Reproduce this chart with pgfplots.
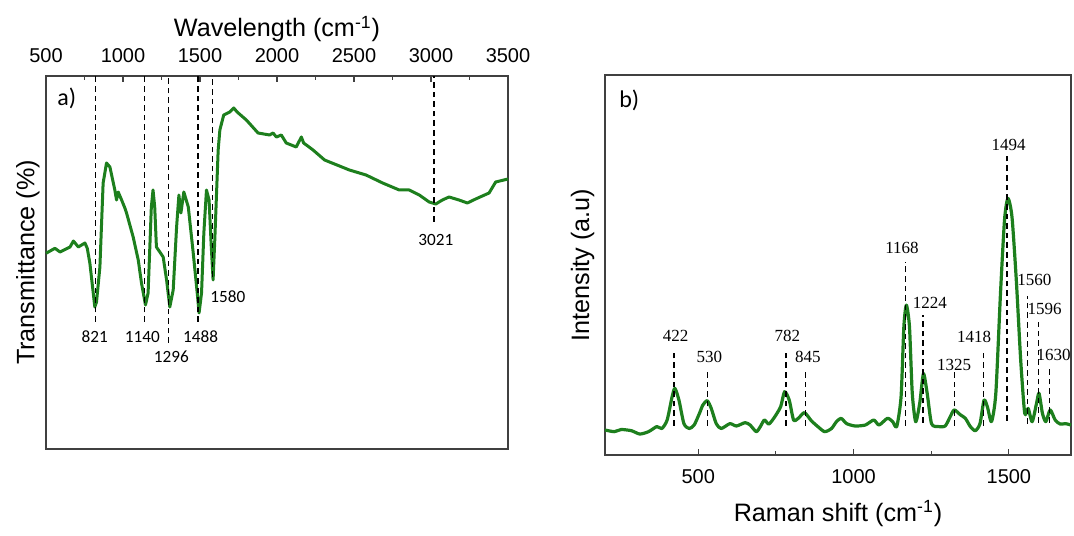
\documentclass[border=0pt]{standalone}
\usepackage{fontspec}
\setmainfont{Liberation Sans}
\newfontfamily\calfont{Carlito}
\newfontfamily\timesfont{Liberation Serif}
\usepackage{pgfplots}
\pgfplotsset{compat=1.18}
\definecolor{spec}{HTML}{1D7F1D}
\definecolor{frame}{HTML}{404040}

\pgfplotsset{
  panel/.style={
    scale only axis,
    axis line style={frame,line width=0.7pt},
    ytick=\empty,
    minor x tick num=1,
    tick align=inside,
    major tick length=3pt,
    minor tick length=2pt,
    tick style={frame,line width=0.6pt},
    /pgf/number format/assume math mode=true,
    /pgf/number format/set thousands separator={},
    tick label style={font=\fontsize{10}{12}\selectfont},
    label style={font=\fontsize{12.6}{14}\selectfont},
    clip=false,
  },
  peak/.style={black,line width=0.75pt,dash pattern=on 2.8pt off 2pt},
}

\begin{document}
\begin{tikzpicture}
\useasboundingbox (0,0) rectangle (537pt,267.5pt);

% a) FTIR
\begin{axis}[panel,
  at={(23pt,43pt)}, anchor=south west,
  width=231pt, height=186.5pt,
  xmin=500, xmax=3500, ymin=0, ymax=373,
  xtick={500,1000,...,3500},
  xtick pos=right, xticklabel pos=right,
  xticklabel style={yshift=3.2pt},
  xlabel={Wavelength (cm\textsuperscript{-1})},
  xlabel style={at={(axis description cs:0.5,1.105)},anchor=base},
  ylabel={Transmittance (\%)},
  ylabel style={at={(axis description cs:-0.025,0.5)},anchor=base,rotate=0},
]
\addplot[spec,line width=1.5pt,line join=round] coordinates {
(500,195.7)(558,200.7)(591,197)(656,202)(678,208)(710,202)(753,206)(768,200.7)
(785,185.7)(817,142)(828,147)(850,182)(871,266)(893,286)(915,282)(947,259)
(958,249)(969,257)(991,249)(1012,241)(1023,236)(1066,212)(1099,189)(1120,166)
(1146,144)(1163,156)(1184,242)(1195,259)(1206,242)(1217,202)(1239,197)(1261,192)
(1283,169)(1304,142)(1326,159)(1348,222)(1363,254)(1376,236)(1395,257)(1424,242)
(1456,196)(1482,156)(1494,136)(1510,156)(1525,216)(1542,259)(1559,249)(1572,206)
(1585,169)(1596,209)(1618,299)(1629,319)(1654,334)(1693,337)(1719,341)(1741,337)
(1801,329)(1877,316)(1952,314)(1974,316)(1996,312)(2028,314)(2060,306)(2125,302)
(2158,312)(2173,306)(2234,299)(2309,289)(2341,287)(2470,279)(2578,274)(2686,266)
(2794,259)(2859,259)(2924,254)(2988,247)(3031,245)(3074,249)(3117,252)(3182,249)
(3236,246)(3290,250)(3377,256)(3420,267)(3500,270)
};
\addplot[peak] coordinates {(821,127)(821,373)};
\addplot[peak] coordinates {(1140,127)(1140,373)};
\addplot[peak] coordinates {(1296,106)(1296,373)};
\addplot[peak] coordinates {(1488,127)(1488,373)};
\addplot[peak] coordinates {(1580,172)(1580,373)};
\addplot[peak] coordinates {(3021,227)(3021,373)};
\begin{scope}[font=\calfont\fontsize{8.6}{10}\selectfont]
\node at (axis cs:817,112) {821};
\node at (axis cs:1126,112) {1140};
\node at (axis cs:1314,92) {1296};
\node at (axis cs:1504,112) {1488};
\node at (axis cs:1681,152) {1580};
\node at (axis cs:3031,209) {3021};
\end{scope}
\node[font=\calfont\fontsize{12}{14}\selectfont] at (rel axis cs:0.045,0.941) {a)};
\end{axis}

% b) Raman
\begin{axis}[panel,
  at={(302.5pt,40pt)}, anchor=south west,
  width=233pt, height=190pt,
  xmin=200, xmax=1700, ymin=0, ymax=387.8,
  xtick={500,1000,1500},
  xtick pos=left, xticklabel pos=left,
  xticklabel style={yshift=-3.7pt},
  xlabel={Raman shift (cm\textsuperscript{-1})},
  xlabel style={at={(axis description cs:0.5,-0.174)},anchor=base},
  ylabel={Intensity (a.u)},
  ylabel style={at={(axis description cs:-0.034,0.5)},anchor=base,rotate=0},
]
\addplot[spec,line width=1.6pt,line join=round,smooth,tension=0.4] coordinates {
(200,25.5)(230,23.8)(252,26)(285,24.8)(312,21.4)(340,23.8)(367,29)(383,27)
(400,35.7)(416,59.5)(425,68)(438,56)(454,32)(471,27)(487,30.6)(504,42.5)
(515,51)(529,55.4)(542,47.6)(558,32)(574,27)(602,32)(623,29.6)(651,33)
(667,30.6)(687,23.8)(700,29)(713,35.7)(727,31.6)(743,37.4)(765,49)(778,64.6)
(793,56)(807,35.7)(822,37.4)(842,43.2)(864,35)(885,29)(907,23.8)(929,27)
(945,34)(960,37.4)(978,32)(1005,29.6)(1038,30.6)(1065,35.7)(1082,30.6)(1109,37.4)
(1126,34)(1139,29)(1153,59.5)(1162,131)(1170,153)(1180,131)(1189,63)(1200,34)
(1213,52.7)(1225,83)(1237,63)(1251,32)(1273,29)(1295,29.6)(1311,39)(1324,46)
(1344,41)(1360,37.4)(1376,29)(1392,24.8)(1407,32)(1420,56)(1431,49)(1444,34)
(1458,63)(1473,165)(1486,240)(1497,262)(1510,243)(1524,178)(1538,97)(1551,42.5)
(1562,47.6)(1575,34)(1589,52.7)(1597,63)(1608,42.5)(1619,34)(1633,46)(1649,35.7)
(1665,31.6)(1682,32)(1700,30.6)
};
\addplot[peak] coordinates {(422,30)(422,107)};
\addplot[peak] coordinates {(530,30)(530,87)};
\addplot[peak] coordinates {(782,30)(782,107)};
\addplot[peak] coordinates {(845,30)(845,87)};
\addplot[peak] coordinates {(1168,30)(1168,197)};
\addplot[peak] coordinates {(1224,33)(1224,143)};
\addplot[peak] coordinates {(1325,30)(1325,85)};
\addplot[peak] coordinates {(1418,30)(1418,107)};
\addplot[peak] coordinates {(1494,35)(1494,306)};
\addplot[peak] coordinates {(1560,32)(1560,162)};
\addplot[peak] coordinates {(1596,33)(1596,136)};
\addplot[peak] coordinates {(1630,33)(1630,88)};
\begin{scope}[font=\timesfont\fontsize{8.5}{10}\selectfont]
\node at (axis cs:427,122) {422};
\node at (axis cs:536,100) {530};
\node at (axis cs:787,122) {782};
\node at (axis cs:853,100) {845};
\node at (axis cs:1156,211) {1168};
\node at (axis cs:1246,155) {1224};
\node at (axis cs:1324,92) {1325};
\node at (axis cs:1388,121) {1418};
\node at (axis cs:1499,316) {1494};
\node at (axis cs:1582,179) {1560};
\node at (axis cs:1615,149) {1596};
\node at (axis cs:1644,102) {1630};
\end{scope}
\node[font=\calfont\fontsize{12}{14}\selectfont] at (rel axis cs:0.052,0.934) {b)};
\end{axis}
\end{tikzpicture}
\end{document}
